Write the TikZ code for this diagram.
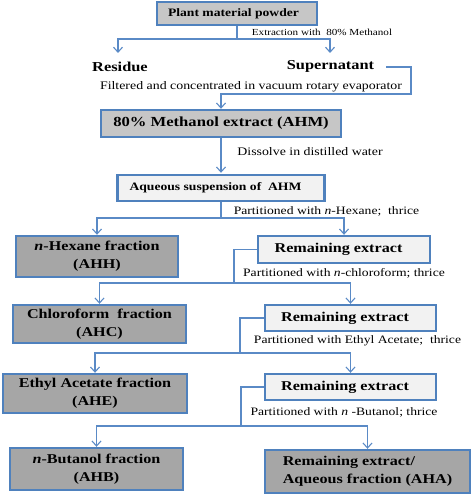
\documentclass[tikz,border=0pt]{standalone}
\usepackage{fontspec}
\setmainfont{Liberation Serif}[
  UprightFont={Liberation Serif},
  BoldFont={Liberation Serif Bold},
  ItalicFont={Liberation Serif Italic},
  BoldItalicFont={Liberation Serif Bold Italic},
  FakeStretch=1.2]
\usetikzlibrary{arrows.meta}
\definecolor{bblue}{HTML}{4F81BD}
\definecolor{cblue}{HTML}{5A8AC6}
\definecolor{midgray}{HTML}{C6C6C6}
\definecolor{darkgray}{HTML}{A6A6A6}
\definecolor{lightgray}{HTML}{F2F2F2}
\tikzset{
  box/.style={draw=bblue, line width=2.4bp, inner sep=0pt, font=\bfseries\fontsize{13.5}{18}\selectfont, align=center},
  midbox/.style={box, fill=midgray},
  darkbox/.style={box, fill=darkgray},
  lightbox/.style={box, fill=lightgray},
  plain/.style={inner sep=0pt, font=\bfseries\fontsize{13.7}{16}\selectfont},
  lbl/.style={inner sep=0pt, font=\fontsize{11.4}{13}\selectfont},
  conn/.style={draw=cblue, line width=1.3bp},
  arr/.style={conn, -{Straight Barb[length=5bp,width=9bp,line width=1.1bp]}}
}
\begin{document}
\begin{tikzpicture}[x=1bp,y=-1bp]
\useasboundingbox (0,0) rectangle (472,496);
% boxes
\node[midbox, minimum width=160bp, minimum height=23bp, font=\bfseries\fontsize{11.4}{14}\selectfont] (plant) at (237,13.5) {Plant material powder\hspace*{7bp}};
\node[plain] (residue) at (120,67) {Residue};
\node[plain] (super) at (330.5,66) {Supernatant};
\node[midbox, minimum width=240bp, minimum height=27bp, font=\bfseries\fontsize{13.9}{16}\selectfont] (ahm) at (221,123.5) {80\% Methanol extract (AHM)};
\node[lightbox, minimum width=207bp, minimum height=26bp, font=\bfseries\fontsize{11.4}{14}\selectfont] (aq) at (221,188) {Aqueous suspension of\ \ AHM\hspace*{11bp}};
\node[darkbox, minimum width=162bp, minimum height=41bp] (hex) at (97,256.5) {\textit{n}-Hexane fraction\\(AHH)};
\node[lightbox, minimum width=172bp, minimum height=27bp] (rem1) at (344,249.5) {Remaining extract\hspace*{11bp}};
\node[darkbox, minimum width=173bp, minimum height=38bp] (chl) at (99.5,324) {Chloroform\ \ fraction\\(AHC)};
\node[lightbox, minimum width=171bp, minimum height=26bp] (rem2) at (350.5,318) {Remaining extract\hspace*{11bp}};
\node[darkbox, minimum width=184bp, minimum height=39bp] (eth) at (95,393.5) {Ethyl Acetate fraction\\(AHE)};
\node[lightbox, minimum width=171bp, minimum height=26bp] (rem3) at (350.5,387) {Remaining extract\hspace*{11bp}};
\node[darkbox, minimum width=173bp, minimum height=42bp] (but) at (96.5,469) {\textit{n}-Butanol fraction\\(AHB)};
\node[darkbox, minimum width=205bp, minimum height=43bp, align=left] (aha) at (367.5,471.5) {Remaining extract/\\Aqueous fraction (AHA)};
% labels
\node[lbl, font=\fontsize{9.3}{11}\selectfont] (l1) at (322,32) {Extraction with\ \ 80\% Methanol};
\node[lbl, font=\fontsize{11.6}{13}\selectfont] (l2) at (251,87) {Filtered and concentrated in vacuum rotary evaporator};
\node[lbl, font=\fontsize{11.6}{13}\selectfont] (l3) at (310,152) {Dissolve in distilled water};
\node[lbl] (l4) at (326.5,211) {Partitioned with \textit{n}-Hexane;\ \ thrice};
\node[lbl] (l5) at (344,273) {Partitioned with \textit{n}-chloroform; thrice};
\node[lbl] (l6) at (357.5,341) {Partitioned with Ethyl Acetate;\ \ thrice};
\node[lbl] (l7) at (344,412) {Partitioned with \textit{n} -Butanol; thrice};
% coordinates
\coordinate (s1) at (237,39);
\coordinate (s1l) at (118,53);
\coordinate (s1r) at (330,53);
\coordinate (sp) at (386,67);
\coordinate (c1) at (411,94);
\coordinate (s2) at (221,218);
\coordinate (k1) at (234,249.5);
\coordinate (s3) at (234,283);
\coordinate (k2) at (240,318);
\coordinate (s4) at (240,353);
\coordinate (k3) at (241,387);
\coordinate (s5) at (241,426);
% connectors
\draw[conn] (plant.south) -- (s1);
\draw[arr] (s1) -| (s1l);
\draw[arr] (s1) -| (s1r);
\draw[arr] (sp) -| (c1) -| (ahm.north);
\draw[arr] (ahm.south) -- ([yshift=1bp]aq.north);
\draw[conn] (aq.south) -- (s2);
\draw[arr] (s2) -| (hex.north);
\draw[arr] (s2) -| (rem1.north);
\draw[conn] (rem1.west) -- (k1) -- (s3);
\draw[arr] (s3) -| (chl.north);
\draw[arr] (s3) -| (rem2.north);
\draw[conn] (rem2.west) -- (k2) -- (s4);
\draw[arr] (s4) -| (eth.north);
\draw[arr] (s4) -| (rem3.north);
\draw[conn] (rem3.west) -- (k3) -- (s5);
\draw[arr] (s5) -| (but.north);
\draw[arr] (s5) -| (aha.north);
\end{tikzpicture}
\end{document}
